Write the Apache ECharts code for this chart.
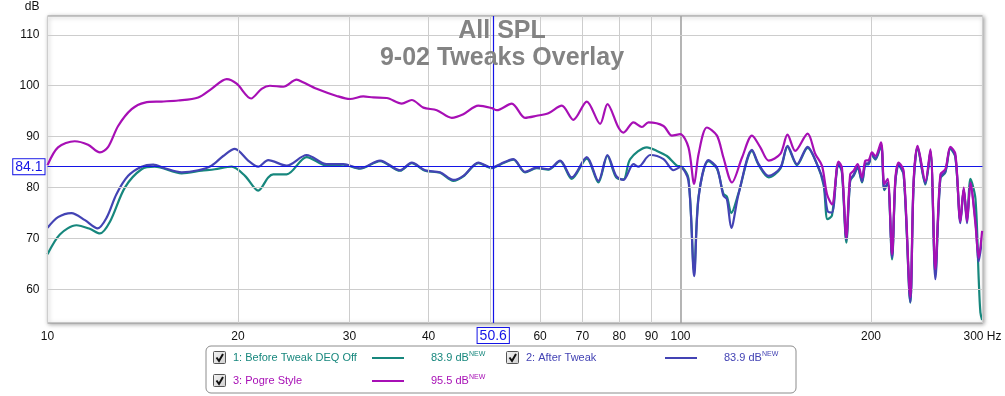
<!DOCTYPE html>
<html><head><meta charset="utf-8">
<script src="https://cdn.jsdelivr.net/npm/echarts@6/dist/echarts.min.js"></script>
<style>html,body{margin:0;padding:0;background:#fff}#c{width:1005px;height:396px}</style>
</head><body><div id="c"></div>
<script>
const titleLines = ['All SPL', '9-02 Tweaks Overlay'];
const seriesNames = ['1: Before Tweak DEQ Off', '2: After Tweak', '3: Pogre Style'];
const legendValues = ['83.9 dB', '83.9 dB', '95.5 dB'];
const xTicks = [10, 20, 30, 40, 50, 60, 70, 80, 90, 100, 200, 300];
const xTickLabels = ['10', '20', '30', '40', '', '60', '70', '80', '90', '100', '200', '300 Hz'];
const yTicks = [60, 70, 80, 90, 100, 110];
const yUnit = 'dB';
const cursorFreq = 50.6;
const cursorLevel = 84.1;

const freq1 = [10.0,10.46,11.11,11.66,12.10,12.55,13.25,14.08,14.77,16.29,17.52,18.38,19.54,20.51,21.52,22.32,22.73,23.87,25.67,27.61,29.33,31.17,33.52,36.06,37.62,39.49,41.70,43.77,45.39,47.94,50.34,51.88,54.45,56.81,59.29,61.84,64.53,67.34,71.12,74.19,76.66,79.13,81.27,83.28,88.50,91.78,95.18,98.70,100.5,102.95,105.1,106.8,110.7,114.2,116.9,118.4,120.3,123.5,129.7,132.9,137.8,143.8,147.6,152.8,158.8,164.3,168.3,170.7,173.5,176.7,177.7,179.9,182.8,185.4,187.7,190.5,193.6,195.9,198.3,200.7,203.2,207.4,209.9,212.5,215.9,218.5,221.1,225.2,230.7,233.5,236.9,243.7,248.2,252.7,257.4,262.1,266.9,271.8,276.8,280.2,283.6,287.1,292.4,295.9,297.7,299.6];
const spl1 = [66.9,70.8,72.6,71.9,71.0,73.3,80.0,83.6,84.1,82.8,83.3,83.6,84.1,82.3,79.4,82.0,82.6,82.6,86.0,84.3,84.5,83.7,85.2,83.3,84.8,83.3,82.9,81.3,82.2,84.8,83.8,84.5,85.5,83.0,83.8,83.5,85.2,81.7,85.7,81.0,86.2,82.0,81.6,85.6,87.9,87.2,86.2,84.3,84.1,81.8,63.5,78.3,85.2,83.7,78.8,78.2,75.0,78.9,87.2,84.4,82.0,83.7,88.0,84.4,87.8,84.6,80.5,73.8,74.5,83.7,84.4,83.0,69.2,81.3,82.3,83.8,81.0,84.5,84.6,86.3,85.5,88.3,79.5,80.8,65.9,81.0,84.3,82.5,57.4,80.6,87.8,80.6,87.0,63.0,81.8,83.0,87.6,86.0,73.5,79.6,73.8,81.7,77.8,62.0,55.5,54.0];

const freq2 = [10.0,10.39,10.91,11.46,12.00,12.40,12.85,13.41,14.08,14.69,15.32,16.29,17.30,18.16,18.95,19.77,20.75,21.52,22.32,23.87,25.67,27.61,29.33,31.17,33.52,36.06,37.62,39.49,41.70,43.77,45.39,47.94,50.34,51.88,54.45,56.81,59.29,61.84,64.53,67.34,71.12,74.19,76.66,79.13,81.27,84.28,85.83,89.57,94.01,97.48,99.89,102.95,105.1,106.8,110.7,114.2,116.9,118.4,120.3,123.5,129.7,132.9,137.8,143.8,147.6,152.8,158.8,164.3,168.3,170.7,173.5,176.7,177.7,179.9,182.8,185.4,187.7,190.5,193.6,195.9,198.3,200.7,203.2,207.4,209.9,212.5,215.9,218.5,221.1,225.2,230.7,233.5,236.9,243.7,248.2,252.7,257.4,262.1,266.9,271.8,276.8,280.2,283.6,287.1,292.4,295.9,299.6];
const spl2 = [72.1,74.2,75.0,73.6,72.0,74.1,78.7,82.3,84.1,84.5,83.8,83.0,83.4,84.3,86.2,87.6,85.3,84.1,85.4,84.3,86.4,84.6,84.6,83.8,85.3,83.4,84.9,83.4,83.0,81.5,82.3,84.9,83.9,84.6,85.6,83.1,83.9,83.6,85.3,82.0,86.0,81.3,86.4,82.3,81.5,84.6,84.1,86.4,85.6,83.4,84.0,81.3,62.6,78.0,85.4,83.9,78.4,77.7,72.1,78.7,87.4,84.6,82.3,83.9,88.2,84.6,88.0,84.6,81.0,75.4,75.1,83.9,84.6,83.2,69.8,81.5,82.5,84.0,81.2,84.7,84.8,86.5,85.7,88.5,79.7,81.0,66.3,81.2,84.5,82.7,57.5,80.8,88.0,80.8,87.2,62.0,82.0,83.2,87.8,86.2,73.0,79.6,73.0,80.6,73.5,65.5,70.0];

const freq3 = [10.0,10.39,11.04,11.59,12.10,12.47,12.93,13.58,14.25,15.14,16.09,17.30,18.16,19.19,19.90,20.97,21.79,22.46,23.58,24.75,25.33,26.62,28.63,30.05,31.54,32.71,34.35,36.28,37.62,39.25,41.21,43.52,45.39,47.94,50.34,51.26,54.14,56.81,59.29,61.84,64.93,67.73,71.12,74.65,76.66,79.80,81.27,84.28,86.90,89.01,94.01,96.92,99.89,102.95,105.1,106.8,110.1,114.2,116.9,120.6,125.1,129.7,133.7,137.8,143.8,147.6,151.8,158.8,163.3,167.3,170.4,173.5,177.7,179.9,182.8,185.4,187.7,190.5,193.6,195.9,198.3,200.7,203.2,207.4,209.9,212.5,215.9,218.5,221.1,225.2,230.7,233.5,236.9,243.7,248.2,252.7,257.4,262.1,266.9,271.8,276.8,280.2,283.6,287.1,292.4,295.9,299.6];
const spl3 = [84.4,87.9,89.1,88.4,86.9,88.0,92.1,95.4,96.7,96.9,97.1,97.7,99.4,101.3,100.4,97.5,99.4,100.0,99.8,101.2,100.7,99.4,98.0,97.4,97.9,97.7,97.6,96.5,97.2,95.7,95.2,93.7,94.4,96.1,95.6,95.2,96.5,93.7,94.1,94.6,96.1,93.3,96.9,92.5,96.4,91.8,90.8,92.8,91.9,92.8,92.1,90.2,90.5,87.9,80.7,86.6,91.8,90.2,85.9,81.0,85.9,90.2,87.9,85.3,86.6,90.4,87.2,90.6,86.6,84.3,78.7,76.7,85.1,83.9,70.2,82.6,83.3,84.6,82.0,85.3,85.4,86.9,86.2,88.9,80.7,81.7,66.9,81.7,84.9,83.3,58.5,81.3,88.2,81.3,87.5,64.0,82.6,83.6,88.0,86.6,73.4,80.0,73.4,81.0,72.8,66.2,71.5];

const FONT = '"Liberation Sans", Arial, sans-serif';
const colors = ['#17877d', '#4343b4', '#a70fb5'];
const cursorColor = '#1414e6';

const freqs = [freq1, freq2, freq3];
const spls = [spl1, spl2, spl3];

const labelMap = {};
xTicks.forEach((v, i) => { labelMap[v] = xTickLabels[i]; });

const chart = echarts.init(document.getElementById('c'), null, {renderer: 'canvas'});

const dataSeries = seriesNames.map((name, k) => ({
  name: name,
  type: 'line',
  data: freqs[k].map((f, i) => [f, spls[k][i]]),
  showSymbol: false,
  symbol: 'none',
  smooth: 0.3,
  z: 3 + k,
  lineStyle: {color: colors[k], width: 2.2},
  itemStyle: {color: colors[k]},
  animation: false,
  silent: true
}));

const gridLineSeries = {
  type: 'line', data: [], z: 1, silent: true, animation: false,
  markLine: {
    silent: true, animation: false, symbol: ['none', 'none'],
    label: {show: false},
    lineStyle: {type: 'solid', width: 1, color: '#cdcdcd'},
    emphasis: {disabled: true},
    data: xTicks.map(v => ({xAxis: v, lineStyle: {type: 'solid', color: v === 100 ? '#a2a2a2' : '#cdcdcd', width: v === 100 ? 1.6 : 1}}))
      .concat(yTicks.map(v => ({yAxis: v, lineStyle: {type: 'solid', color: '#cdcdcd', width: 1}})))
  }
};

const cursorLabel = {
  show: true, position: 'start', color: cursorColor, fontSize: 14, fontFamily: FONT,
  backgroundColor: '#fff', borderColor: cursorColor, borderWidth: 1, padding: [1, 2, 0, 2]
};
const cursorSeries = {
  type: 'line', data: [], z: 10, silent: true, animation: false,
  markLine: {
    silent: true, animation: false, symbol: ['none', 'none'],
    lineStyle: {type: 'solid', width: 1.2, color: cursorColor},
    emphasis: {disabled: true},
    data: [
      {yAxis: cursorLevel, label: Object.assign({}, cursorLabel, {formatter: cursorLevel.toFixed(1), distance: 3})},
      {xAxis: cursorFreq, label: Object.assign({}, cursorLabel, {formatter: cursorFreq.toFixed(1), distance: 5})}
    ]
  }
};

// Legend drawn as graphic
const legendGraphics = [];
const boxX = 206, boxY = 346, boxW = 590, boxH = 47;
legendGraphics.push({type: 'rect', silent: true, shape: {x: boxX, y: boxY, width: boxW, height: boxH, r: 5},
  style: {fill: '#fff', stroke: '#8c8c8c', lineWidth: 1}, z: 20});
const slots = [{cb: 213, y: 358}, {cb: 506, y: 358}, {cb: 213, y: 381}];
seriesNames.forEach((name, k) => {
  const s = slots[k];
  legendGraphics.push({type: 'rect', silent: true, z: 21, shape: {x: s.cb + 0.5, y: s.y - 6.5, width: 12, height: 12, r: 1},
    style: {fill: new echarts.graphic.LinearGradient(0, 0, 1, 1, [{offset: 0, color: '#f4f4f4'}, {offset: 1, color: '#cfcfcf'}]), stroke: '#555', lineWidth: 1}});
  legendGraphics.push({type: 'polyline', silent: true, z: 22, shape: {points: [[s.cb + 3.5, s.y - 0.5], [s.cb + 6, s.y + 3], [s.cb + 10, s.y - 4]]},
    style: {stroke: '#111', lineWidth: 2, fill: null}});
  legendGraphics.push({type: 'text', silent: true, z: 21, style: {text: name, x: s.cb + 20, y: s.y, fill: colors[k],
    fontSize: 11, fontFamily: FONT, verticalAlign: 'middle', align: 'left'}});
  legendGraphics.push({type: 'line', silent: true, z: 21, shape: {x1: s.cb + 159, y1: s.y, x2: s.cb + 191, y2: s.y},
    style: {stroke: colors[k], lineWidth: 2}});
  legendGraphics.push({type: 'text', silent: true, z: 21, style: {text: '{v|' + legendValues[k] + '}{s|NEW}', x: s.cb + 218, y: s.y,
    verticalAlign: 'middle', align: 'left', fontFamily: FONT,
    rich: {v: {fill: colors[k], fontSize: 11, fontFamily: FONT}, s: {fill: colors[k], fontSize: 7, fontFamily: FONT, padding: [0, 0, 7, 0]}}}});
});

const option = {
  backgroundColor: '#fff',
  animation: false,
  title: {
    text: titleLines.join('\n'),
    left: 497, top: 13, textAlign: 'center',
    textStyle: {fontSize: 25, fontWeight: 'bold', color: '#838383', fontFamily: FONT, lineHeight: 27}
  },
  grid: {
    left: 47.5, right: 22.5, top: 16, bottom: 73,
    show: true, backgroundColor: '#fff', borderColor: '#999', borderWidth: 1,
    shadowBlur: 4, shadowColor: 'rgba(0,0,0,0.35)', shadowOffsetX: 1, shadowOffsetY: 1
  },
  xAxis: {
    type: 'log', logBase: 10, min: 10, max: 300,
    axisLine: {show: false}, axisTick: {show: false}, splitLine: {show: false}, minorSplitLine: {show: false},
    axisLabel: {
      customValues: xTicks.filter((v, i) => xTickLabels[i] !== ''),
      formatter: v => labelMap[Math.round(v)] !== undefined ? labelMap[Math.round(v)] : '',
      color: '#111', fontSize: 12, fontFamily: FONT, margin: 8, showMinLabel: true, showMaxLabel: true
    }
  },
  yAxis: {
    type: 'value', min: 53.4, max: 113.7,
    name: yUnit, nameLocation: 'end', nameGap: 9,
    nameTextStyle: {align: 'right', verticalAlign: 'middle', padding: [0, 8, 0, 0], color: '#111', fontSize: 12, fontFamily: FONT},
    axisLine: {show: false}, axisTick: {show: false}, splitLine: {show: false},
    axisLabel: {customValues: yTicks, color: '#111', fontSize: 12, fontFamily: FONT, margin: 8}
  },
  graphic: legendGraphics,
  series: [gridLineSeries].concat(dataSeries, [cursorSeries])
};
chart.setOption(option);
</script>
</body></html>
